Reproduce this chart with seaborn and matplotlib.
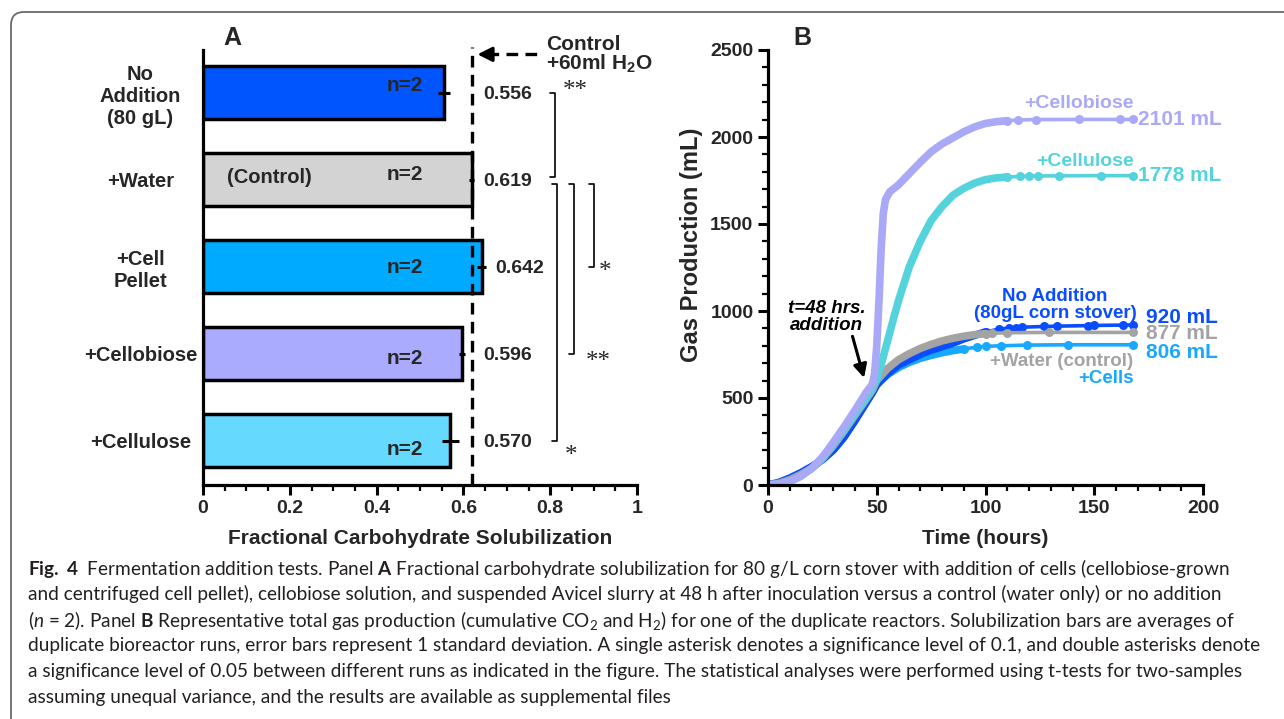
import matplotlib
matplotlib.use("Agg")
import matplotlib.pyplot as plt
import seaborn as sns
from matplotlib.ticker import MultipleLocator
from matplotlib.patches import FancyBboxPatch

# ---------------- Panel A data ----------------
tick_labels = ["No\nAddition\n(80 gL)", "+Water", "+Cell\nPellet", "+Cellobiose", "+Cellulose"]
solubilization = [0.556, 0.619, 0.642, 0.596, 0.570]
sol_sd = [0.014, 0.006, 0.011, 0.007, 0.019]
bar_colors = ["#0055ff", "#d3d3d3", "#00aaff", "#aaaaff", "#66d9ff"]
control_value = 0.619
sig_pairs = [(0, 1), (1, 4), (1, 3), (1, 2)]
sig_marks = ["**", "*", "**", "*"]

# ---------------- Panel B data ----------------
t_cellobiose = [0, 5, 10, 15, 20, 25, 30, 35, 40, 45, 48, 49, 50, 51, 52, 53, 54, 56, 60, 65, 70, 75,
                80, 85, 90, 95, 100, 105, 110, 115, 123, 143, 162, 168]
v_cellobiose = [0, 5, 20, 50, 95, 160, 245, 335, 430, 530, 580, 640, 800, 1050, 1350, 1560, 1640, 1685,
                1725, 1790, 1855, 1915, 1960, 1995, 2030, 2058, 2078, 2088, 2094, 2098, 2100, 2101, 2101, 2101]

t_cellulose = [0, 5, 10, 15, 20, 25, 30, 35, 40, 45, 48, 50, 52, 55, 58, 60, 65, 70, 75, 80, 85, 90,
               95, 100, 105, 110, 116, 120, 124, 134, 153, 168]
v_cellulose = [0, 5, 20, 50, 95, 155, 235, 320, 410, 500, 560, 610, 690, 830, 970, 1060, 1255, 1400,
               1520, 1600, 1665, 1705, 1735, 1755, 1765, 1770, 1773, 1775, 1776, 1777, 1778, 1778]

t_noadd = [0, 5, 10, 15, 20, 25, 30, 35, 40, 45, 48, 50, 55, 60, 65, 70, 75, 80, 85, 90, 95, 100,
           106, 111, 114, 117, 127, 133, 147, 150, 163, 168]
v_noadd = [0, 15, 40, 70, 105, 145, 200, 275, 370, 470, 530, 575, 640, 690, 720, 750, 775, 795, 815,
           840, 860, 880, 895, 902, 905, 907, 911, 913, 916, 917, 919, 920]

t_water = [0, 5, 10, 15, 20, 25, 30, 35, 40, 45, 48, 50, 55, 60, 65, 70, 75, 80, 85, 90, 95, 100,
           103, 110, 129, 168]
v_water = [0, 10, 30, 60, 95, 150, 225, 310, 400, 490, 545, 600, 670, 720, 755, 785, 808, 828, 843,
           855, 864, 870, 872, 875, 877, 877]

t_cells = [0, 5, 10, 15, 20, 25, 30, 35, 40, 45, 48, 50, 55, 60, 65, 70, 75, 80, 85, 90, 96, 100,
           107, 119, 138, 168]
v_cells = [0, 10, 30, 60, 95, 150, 225, 305, 395, 480, 535, 580, 635, 675, 705, 728, 745, 760, 772,
           782, 792, 797, 800, 804, 806, 806]

caption_lines = [
    r"$\mathbf{Fig.\ 4}$  Fermentation addition tests. Panel $\mathbf{A}$ Fractional carbohydrate solubilization for 80 g/L corn stover with addition of cells (cellobiose-grown",
    "and centrifuged cell pellet), cellobiose solution, and suspended Avicel slurry at 48 h after inoculation versus a control (water only) or no addition",
    r"($\mathit{n}$ = 2). Panel $\mathbf{B}$ Representative total gas production (cumulative CO$_2$ and H$_2$) for one of the duplicate reactors. Solubilization bars are averages of",
    "duplicate bioreactor runs, error bars represent 1 standard deviation. A single asterisk denotes a significance level of 0.1, and double asterisks denote",
    "a significance level of 0.05 between different runs as indicated in the figure. The statistical analyses were performed using t-tests for two-samples",
    "assuming unequal variance, and the results are available as supplemental files",
]

sns.set_theme(style="ticks")
plt.rcParams["font.family"] = ["Liberation Sans", "DejaVu Sans"]
plt.rcParams["mathtext.fontset"] = "custom"
plt.rcParams["mathtext.rm"] = "Lato"
plt.rcParams["mathtext.it"] = "Lato:italic"
plt.rcParams["mathtext.bf"] = "Lato:bold"
plt.rcParams["mathtext.default"] = "regular"

fig = plt.figure(figsize=(12.84, 7.19), dpi=100)
W, H = 1284, 719
axA = fig.add_axes([203 / W, 1 - 485 / H, 434 / W, 435 / H])
axB = fig.add_axes([768 / W, 1 - 485 / H, 435 / W, 435 / H])

# frame round the whole figure
frame = FancyBboxPatch((0.11, -0.5), 14, 7.19 - 0.12 + 0.5, boxstyle="round,pad=0,rounding_size=0.13",
                       transform=fig.dpi_scale_trans, fill=False, ec="#6a6a6a", lw=1.3)
fig.patches.append(frame)

def style_axes(ax):
    sns.despine(ax=ax)
    for s in ["left", "bottom"]:
        ax.spines[s].set_linewidth(2.3)
        ax.spines[s].set_color("black")
    ax.tick_params(which="major", length=7, width=2.2, color="black", labelsize=14)
    ax.tick_params(which="minor", length=4, width=1.6, color="black")
    for lab in ax.get_xticklabels() + ax.get_yticklabels():
        lab.set_fontweight("bold")

# ---------------- Panel A ----------------
rows = list(range(len(solubilization)))
sns.barplot(x=solubilization, y=rows, hue=rows, palette=bar_colors, orient="h", legend=False,
            width=0.61, edgecolor="black", linewidth=2.5, errorbar=None, saturation=1, ax=axA)
axA.errorbar(solubilization, rows, xerr=sol_sd, fmt="none", ecolor="black", elinewidth=2.2, capsize=0)
axA.set_xlim(0, 1)
axA.set_ylim(4.51, -0.49)
axA.set_xticks([0, 0.2, 0.4, 0.6, 0.8, 1.0])
axA.set_xticklabels(["0", "0.2", "0.4", "0.6", "0.8", "1"])
axA.xaxis.set_minor_locator(MultipleLocator(0.05))
axA.set_yticks(rows)
style_axes(axA)
axA.set_yticklabels(tick_labels, ha="center", fontsize=14.5, fontweight="bold")
axA.tick_params(axis="y", length=0, pad=45)
axA.set_ylabel("")
axA.set_xlabel("Fractional Carbohydrate Solubilization", fontsize=15, fontweight="bold", va="center")
axA.xaxis.set_label_coords(0.5, -0.122)

# control dashed line + arrow
axA.plot([control_value, control_value], [4.51, -0.53], color="black", lw=2.4,
         ls=(0, (3.5, 2.2)), clip_on=False, zorder=5)
axA.plot([0.655, 0.777], [-0.44, -0.44], color="black", lw=2.4, ls=(0, (3.5, 2.2)), clip_on=False)
axA.annotate("", xy=(0.626, -0.44), xytext=(0.67, -0.44), annotation_clip=False,
             arrowprops=dict(arrowstyle="-|>", color="black", lw=2.2, mutation_scale=22))
axA.text(0.79, -0.43, "Control\n+60ml H$_2$O", fontsize=15, fontweight="bold", ha="left",
         va="center", linespacing=0.9, clip_on=False)

# n=2 and value labels
n_offsets = [-0.08, -0.06, 0.01, 0.06, 0.1]
for i, (v, e) in enumerate(zip(solubilization, sol_sd)):
    axA.text(0.465, i + n_offsets[i], "n=2", fontsize=15, fontweight="bold", ha="center", va="center")
    axA.text(max(v + e, 0.625) + 0.02, i + 0.02, f"{v:.3f}", fontsize=14, fontweight="bold",
             ha="left", va="center")
axA.text(0.152, 0.98, "(Control)", fontsize=14.5, fontweight="bold", ha="center", va="center")

# significance brackets
br_x = [0.811, 0.816, 0.855, 0.901]
star_xy = [(0.829, -0.02), (0.834, 4.18), (0.883, 3.1), (0.912, 2.06)]
for (a, b), x, mark, (sx, sy) in zip(sig_pairs, br_x, sig_marks, star_xy):
    y0 = a + (0.0 if a == 0 else 0.05)
    y1 = b - (0.03 if b == 1 else 0.0)
    axA.plot([x - 0.012, x, x, x - 0.012], [y0, y0, y1, y1], color="black", lw=1.2, clip_on=False)
    axA.text(sx, sy, mark, fontsize=18, family="Liberation Serif", ha="left", va="center")

axA.text(0.067, 1.028, "A", transform=axA.transAxes, fontsize=18, fontweight="bold", ha="center", va="center")

# ---------------- Panel B ----------------
series = [
    (t_cells, v_cells, "#18a8ff", 90),
    (t_noadd, v_noadd, "#0a4dff", 100),
    (t_water, v_water, "#a3a3a3", 100),
    (t_cellulose, v_cellulose, "#55d3dc", 110),
    (t_cellobiose, v_cellobiose, "#a9a9f7", 110),
]
for t, v, c, t_split in series:
    dense_t = [x for x in t if x <= t_split]
    dense_v = v[:len(dense_t)]
    tail_t = t[len(dense_t) - 1:]
    tail_v = v[len(dense_t) - 1:]
    sns.lineplot(x=dense_t, y=dense_v, color=c, lw=5.5, estimator=None, sort=False, ax=axB,
                 solid_capstyle="round")
    sns.lineplot(x=tail_t, y=tail_v, color=c, lw=2.6, marker="o", markersize=6.5,
                 markeredgewidth=0, estimator=None, sort=False, ax=axB)

axB.set_xlim(0, 200)
axB.set_ylim(0, 2500)
axB.xaxis.set_major_locator(MultipleLocator(50))
axB.xaxis.set_minor_locator(MultipleLocator(10))
axB.yaxis.set_major_locator(MultipleLocator(500))
axB.yaxis.set_minor_locator(MultipleLocator(100))
style_axes(axB)
axB.set_xlabel("Time (hours)", fontsize=15, fontweight="bold", va="center")
axB.xaxis.set_label_coords(0.5, -0.122)
axB.set_ylabel("Gas Production (mL)", fontsize=17, fontweight="bold", va="center")
axB.yaxis.set_label_coords(-0.175, 0.552)

lab_kw = dict(fontweight="bold", va="center")
axB.text(168, 2190, "+Cellobiose", color="#a9a9f7", fontsize=14, ha="right", **lab_kw)
axB.text(170, 2101, "2101 mL", color="#a9a9f7", fontsize=15, ha="left", **lab_kw)
axB.text(168, 1860, "+Cellulose", color="#55d3dc", fontsize=14, ha="right", **lab_kw)
axB.text(170, 1778, "1778 mL", color="#55d3dc", fontsize=15, ha="left", **lab_kw)
axB.text(132, 1035, "No Addition\n(80gL corn stover)", color="#0a4dff", fontsize=13.5, ha="center",
         multialignment="center", linespacing=1.05, **lab_kw)
axB.text(174, 965, "920 mL", color="#0a4dff", fontsize=15, ha="left", **lab_kw)
axB.text(174, 868, "877 mL", color="#a3a3a3", fontsize=15, ha="left", **lab_kw)
axB.text(174, 762, "806 mL", color="#18a8ff", fontsize=15, ha="left", **lab_kw)
axB.text(168, 709, "+Water (control)", color="#a3a3a3", fontsize=13.5, ha="right", **lab_kw)
axB.text(168, 612, "+Cells", color="#18a8ff", fontsize=13.5, ha="right", **lab_kw)
axB.text(27, 965, "t=48 hrs.\naddition", color="black", fontsize=13.5, ha="center", style="italic",
         linespacing=1.0, **lab_kw)
axB.annotate("", xy=(44.5, 600), xytext=(38.5, 870),
             arrowprops=dict(arrowstyle="-|>", color="black", lw=2.2, mutation_scale=20))
axB.text(0.08, 1.028, "B", transform=axB.transAxes, fontsize=18, fontweight="bold", ha="center", va="center")

# ---------------- caption ----------------
cap_y = [568, 594, 620, 646, 672, 698]
cap_texts = []
for line, y in zip(caption_lines, cap_y):
    cap_texts.append(fig.text(28 / W, 1 - y / H, line, family="Lato", fontsize=13, color="#231f20",
                              ha="left", va="center"))
fig.canvas.draw()
w = cap_texts[3].get_window_extent().width
size = 13 * 1234 / w
for t in cap_texts:
    t.set_fontsize(size)

fig.savefig("out.png", dpi=100)
